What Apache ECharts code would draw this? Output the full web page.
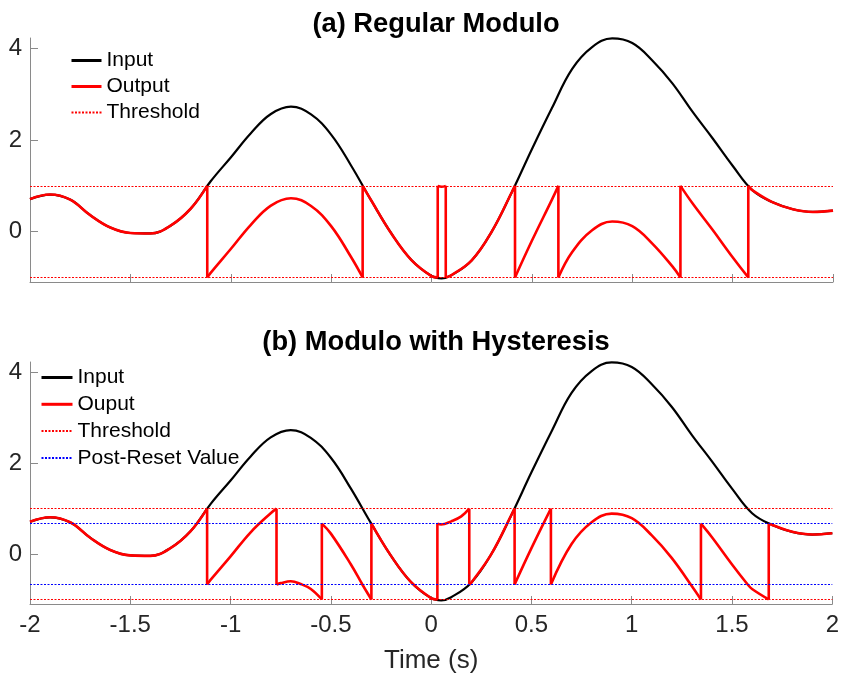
<!DOCTYPE html>
<html>
<head>
<meta charset="utf-8">
<script src="https://cdn.jsdelivr.net/npm/echarts@6/dist/echarts.min.js"></script>
<style>
  html, body { margin: 0; padding: 0; background: #fff; }
  #chart { width: 842px; height: 679px; }
</style>
</head>
<body>
<div id="chart"></div>
<script>
// input signal
const inputT = [-2, -1.9, -1.8, -1.7, -1.6, -1.5, -1.4, -1.3, -1.2, -1.1, -1.0, -0.9, -0.8, -0.7, -0.6, -0.5, -0.4, -0.3, -0.2, -0.1,
  0, 0.05, 0.1, 0.2, 0.3, 0.4, 0.5, 0.6, 0.7, 0.8, 0.9, 1.0, 1.1, 1.2, 1.3, 1.4, 1.5, 1.6, 1.7, 1.8, 1.9, 2.0];
const inputV = [0.71, 0.81, 0.70, 0.36, 0.09, -0.03, -0.04, 0.13, 0.50, 1.10, 1.62, 2.15, 2.57, 2.73, 2.56, 2.12, 1.44, 0.68, -0.04, -0.62,
  -0.97, -1.02, -0.95, -0.63, 0.0, 0.86, 1.80, 2.70, 3.55, 4.03, 4.22, 4.12, 3.74, 3.24, 2.62, 2.04, 1.44, 0.90, 0.64, 0.49, 0.43, 0.46];

// (a) regular modulo output, one array per continuous piece
const regularPieces = [
  [[-2, 0.71], [-1.9, 0.81], [-1.8, 0.70], [-1.7, 0.36], [-1.6, 0.09], [-1.5, -0.03], [-1.4, -0.04], [-1.3, 0.13], [-1.2, 0.50], [-1.117, 1]],
  [[-1.117, -1], [-1.1, -0.90], [-1.0, -0.38], [-0.9, 0.15], [-0.8, 0.57], [-0.7, 0.73], [-0.6, 0.56], [-0.5, 0.12], [-0.4, -0.56], [-0.343, -1]],
  [[-0.343, 1], [-0.3, 0.68], [-0.2, -0.04], [-0.1, -0.62], [0, -0.97], [0.031, -1]],
  [[0.031, 1], [0.05, 0.98], [0.071, 1]],
  [[0.071, -1], [0.1, -0.95], [0.2, -0.63], [0.3, 0], [0.4, 0.86], [0.416, 1]],
  [[0.416, -1], [0.5, -0.2], [0.6, 0.7], [0.632, 1]],
  [[0.632, -1], [0.7, -0.45], [0.8, 0.03], [0.9, 0.22], [1.0, 0.12], [1.1, -0.26], [1.2, -0.76], [1.24, -1]],
  [[1.24, 1], [1.3, 0.62], [1.4, 0.04], [1.5, -0.56], [1.578, -1]],
  [[1.578, 1], [1.6, 0.9], [1.7, 0.64], [1.8, 0.49], [1.9, 0.43], [2, 0.46]]
];

// (b) modulo with hysteresis output
const hystPieces = [
  [[-2, 0.71], [-1.9, 0.81], [-1.8, 0.70], [-1.7, 0.36], [-1.6, 0.09], [-1.5, -0.03], [-1.4, -0.04], [-1.3, 0.13], [-1.2, 0.50], [-1.117, 1]],
  [[-1.117, -0.67], [-1.1, -0.57], [-1.0, -0.05], [-0.9, 0.48], [-0.8, 0.90], [-0.771, 1]],
  [[-0.771, -0.67], [-0.75, -0.64], [-0.7, -0.60], [-0.65, -0.66], [-0.6, -0.77], [-0.545, -1]],
  [[-0.545, 0.67], [-0.5, 0.45], [-0.4, -0.23], [-0.343, -0.67], [-0.298, -1]],
  [[-0.298, 0.67], [-0.2, -0.04], [-0.1, -0.62], [0, -0.97], [0.031, -1]],
  [[0.031, 0.67], [0.05, 0.65], [0.1, 0.72], [0.15, 0.83], [0.19, 1]],
  [[0.19, -0.67], [0.2, -0.63], [0.3, 0], [0.4, 0.86], [0.416, 1]],
  [[0.416, -0.67], [0.5, 0.13], [0.597, 1]],
  [[0.597, -0.67], [0.7, 0.22], [0.8, 0.70], [0.9, 0.89], [1.0, 0.79], [1.1, 0.41], [1.2, -0.09], [1.3, -0.71], [1.345, -1]],
  [[1.345, 0.67], [1.4, 0.37], [1.5, -0.23], [1.578, -0.67], [1.6, -0.77], [1.683, -1]],
  [[1.683, 0.67], [1.7, 0.64], [1.8, 0.49], [1.9, 0.43], [2, 0.46]]
];

const thresholdVals = [1, -1];
const resetVals = [0.67, -0.67];
const yTicks = [0, 2, 4];
const titles = ['(a) Regular Modulo', '(b) Modulo with Hysteresis'];

const FONT = '"Liberation Sans", Arial, sans-serif';
const AXIS_GRAY = '#8a8a8a';
const LABEL = '#262626';

const chart = echarts.init(document.getElementById('chart'));

function inputSeries(idx) {
  return {
    name: 'Input', type: 'line', xAxisIndex: idx, yAxisIndex: idx,
    data: inputT.map((t, i) => [t, inputV[i]]),
    smooth: 0.4, symbol: 'none', z: 2,
    lineStyle: { color: '#000', width: 2.2 }, itemStyle: { color: '#000' }
  };
}

// smooth pieces plus straight vertical jumps between them
function outputSeries(pieces, idx, name) {
  const out = [];
  const base = { name: name, type: 'line', xAxisIndex: idx, yAxisIndex: idx, symbol: 'none', z: 3,
    lineStyle: { color: '#ff0000', width: 2.6 }, itemStyle: { color: '#ff0000' } };
  pieces.forEach((p, i) => {
    out.push(Object.assign({}, base, { data: p, smooth: 0.4 }));
    if (i < pieces.length - 1) {
      out.push(Object.assign({}, base, { data: [p[p.length - 1], pieces[i + 1][0]] }));
    }
  });
  return out;
}

function levelSeries(name, vals, color, idx) {
  const ls = { color: color, width: 1, type: [2, 1.5] };
  return {
    name: name, type: 'line', xAxisIndex: idx, yAxisIndex: idx, data: [], symbol: 'none', z: 4,
    lineStyle: ls, itemStyle: { color: color },
    markLine: { silent: true, symbol: 'none', animation: false, label: { show: false },
      lineStyle: ls, data: vals.map(v => ({ yAxis: v })) }
  };
}

function xAxis(idx, showLabels) {
  return {
    type: 'value', gridIndex: idx, min: -2, max: 2, interval: 0.5,
    axisLine: { onZero: false, lineStyle: { color: AXIS_GRAY, width: 1 } },
    axisTick: { inside: true, length: 8, lineStyle: { color: AXIS_GRAY } },
    axisLabel: { show: showLabels, fontSize: 24, color: LABEL, fontFamily: FONT, margin: 9 },
    splitLine: { show: false },
    name: showLabels ? 'Time (s)' : '', nameLocation: 'middle', nameGap: 44,
    nameTextStyle: { fontSize: 26, color: LABEL, fontFamily: FONT }
  };
}

function yAxis(idx) {
  return {
    type: 'value', gridIndex: idx, min: -1.1, max: 4.23,
    axisLine: { show: true, onZero: false, lineStyle: { color: AXIS_GRAY, width: 1 } },
    axisTick: { inside: true, length: 8, customValues: yTicks, lineStyle: { color: AXIS_GRAY } },
    axisLabel: { fontSize: 24, color: LABEL, fontFamily: FONT, margin: 8, customValues: yTicks },
    splitLine: { show: false }
  };
}

const legendText = { fontSize: 21, color: '#000', fontFamily: FONT, lineHeight: 21 };
const legendBase = { orient: 'vertical', itemHeight: 12, padding: 0, textStyle: legendText,
  selectedMode: false, itemStyle: { opacity: 0 } };
const thick = name => ({ name: name, lineStyle: { width: 3 } });

chart.setOption({
  animation: false,
  backgroundColor: '#fff',
  title: titles.map((t, i) => ({
    text: t, left: 431, top: i === 0 ? 6 : 324, textAlign: 'center',
    textStyle: { fontSize: 27.3, fontWeight: 'bold', color: '#000', fontFamily: FONT }
  })),
  legend: [
    Object.assign({}, legendBase, { data: [thick('Input'), thick('Output'), 'Threshold'], left: 70, top: 50,
      itemWidth: 30, itemGap: 5 }),
    Object.assign({}, legendBase, { data: [thick('Input'), thick('Ouput'), 'Threshold', 'Post-Reset Value'], left: 40, top: 367,
      itemWidth: 31, itemGap: 5.8 })
  ],
  grid: [
    { left: 30, right: 9, top: 38, height: 244 },
    { left: 30, right: 9, top: 362, height: 242 }
  ],
  xAxis: [xAxis(0, false), xAxis(1, true)],
  yAxis: [yAxis(0), yAxis(1)],
  series: [
    inputSeries(0),
    ...outputSeries(regularPieces, 0, 'Output'),
    levelSeries('Threshold', thresholdVals, '#ff0000', 0),
    inputSeries(1),
    ...outputSeries(hystPieces, 1, 'Ouput'),
    levelSeries('Threshold', thresholdVals, '#ff0000', 1),
    levelSeries('Post-Reset Value', resetVals, '#0000ff', 1)
  ]
});
</script>
</body>
</html>
